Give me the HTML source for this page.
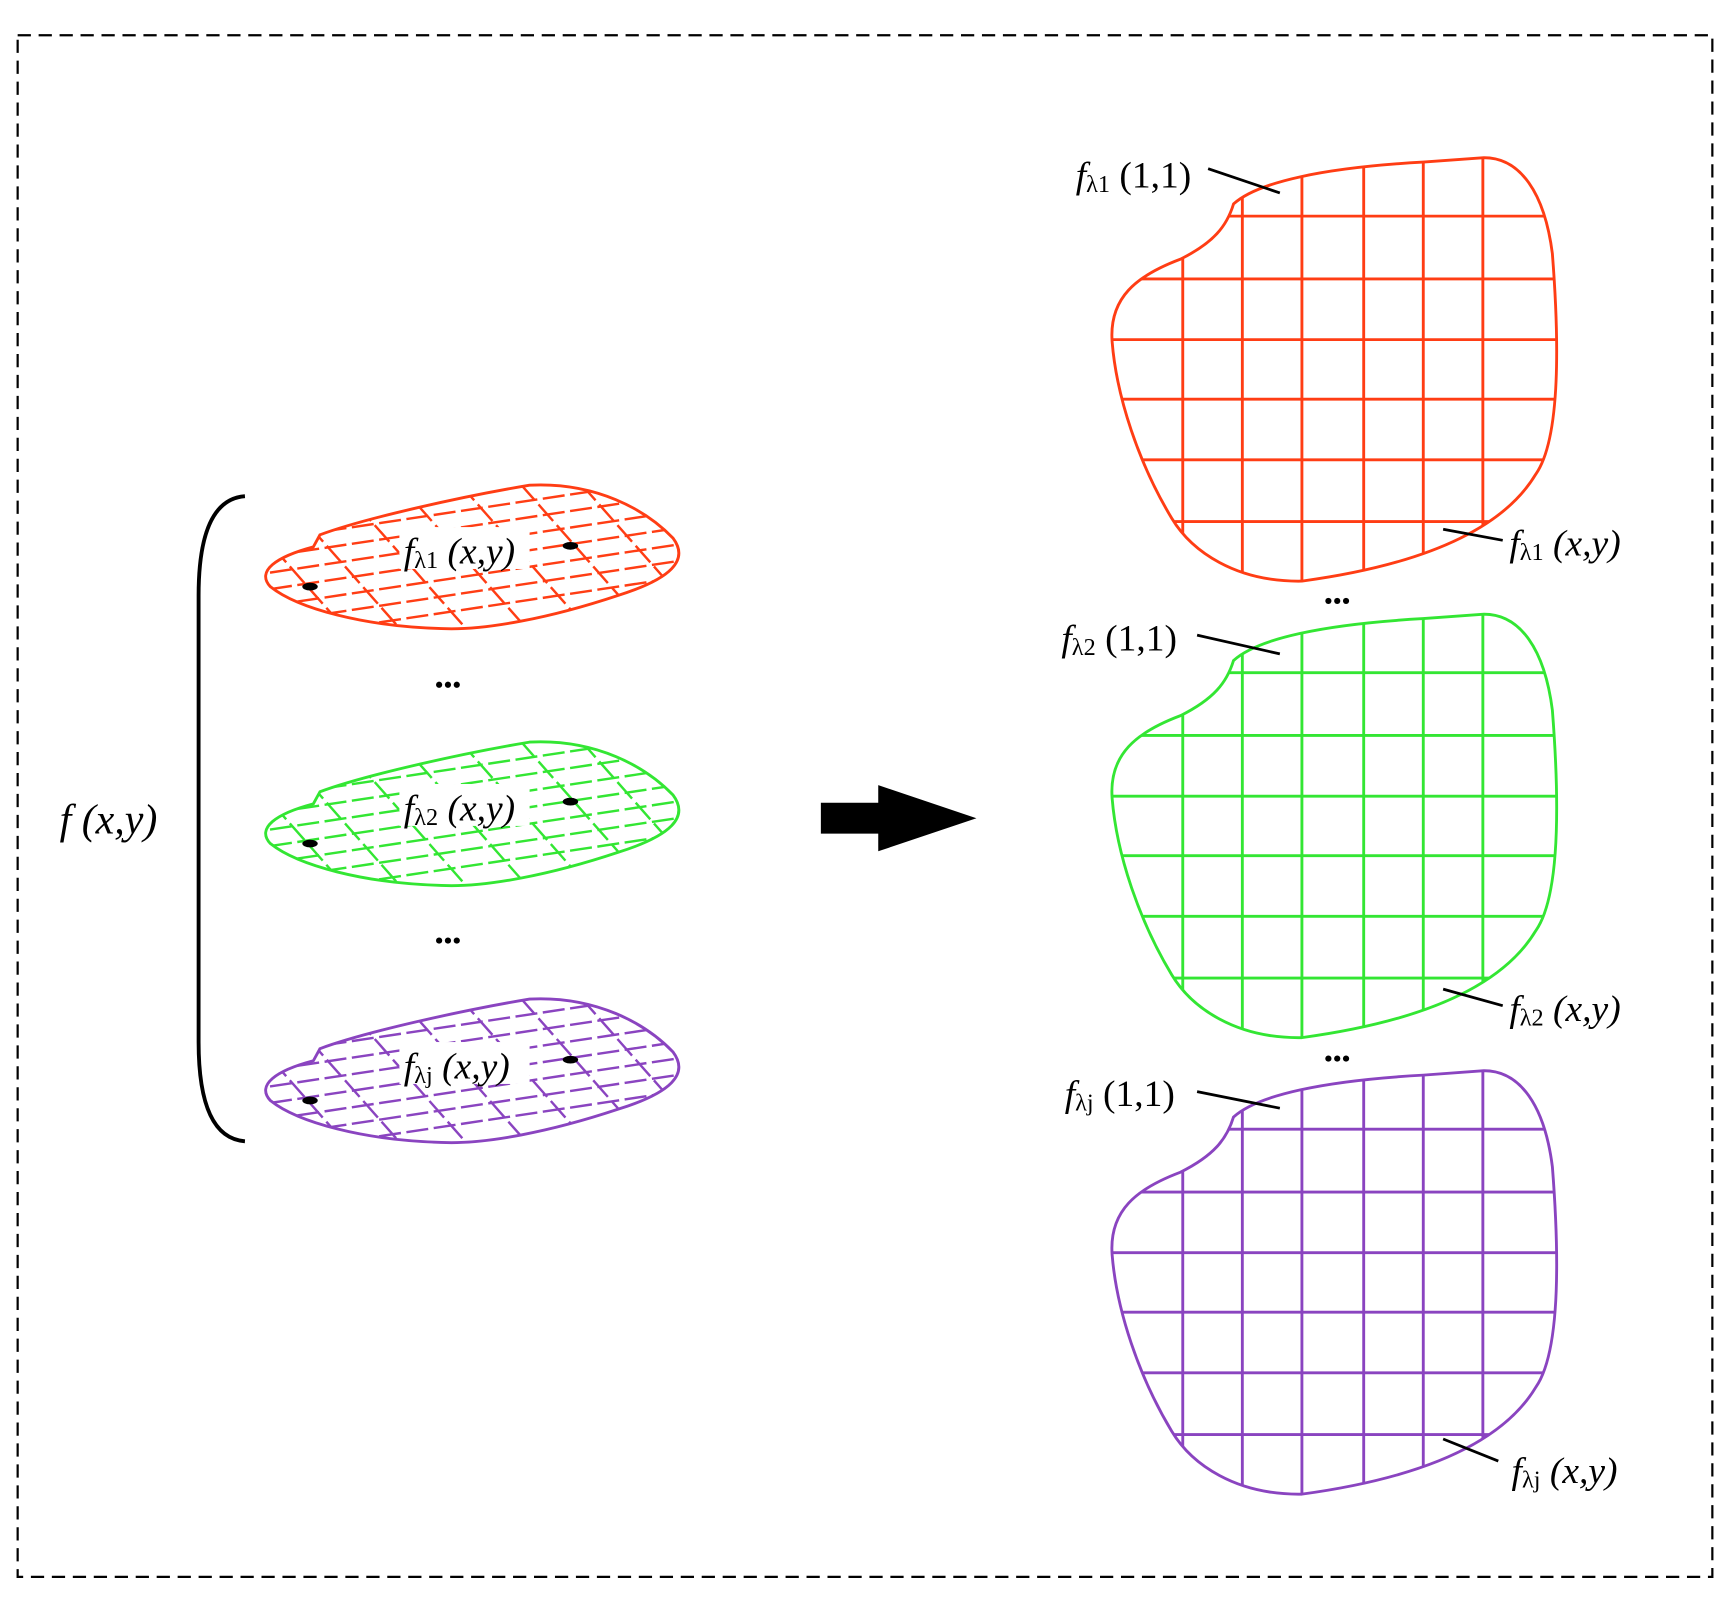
<!DOCTYPE html>
<html><head><meta charset="utf-8"><style>
html,body{margin:0;padding:0;background:#fff;}
svg{display:block;}
text{font-family:"Liberation Serif",serif;fill:#000;}
</style></head><body>
<svg width="1730" height="1600" viewBox="0 0 1568 1451" preserveAspectRatio="none" xmlns="http://www.w3.org/2000/svg">
<defs>
<clipPath id="bigc" clipPathUnits="userSpaceOnUse">
<path d="M1118,185 C1140,165 1200,152 1290,147 L1345,143 C1378,143 1400,175 1407,230 C1414,320 1413,400 1392,430 C1362,480 1290,512 1180,527 C1120,528 1080,500 1062,470 C1032,420 1012,360 1008,310 C1005,270 1030,250 1070,235 C1100,220 1112,205 1118,185 Z"/>
</clipPath>
<clipPath id="flatc" clipPathUnits="userSpaceOnUse">
<path d="M290,485 C330,470 420,450 480,440 C540,437 585,462 610,488 C625,508 608,525 560,540 C500,560 440,572 400,570 C330,568 270,552 245,532 C232,518 250,505 284,496 Z"/>
</clipPath>
<g id="bigGrid" stroke-width="2.6" fill="none">
<path d="M1072,140V540M1126,140V540M1180,140V540M1236,140V540M1290,140V540M1344,140V540"/>
<path d="M1000,196H1420M1000,253H1420M1000,308H1420M1000,362H1420M1000,417H1420M1000,473H1420"/>
</g>
<g id="flatGrid" stroke-width="2.2" fill="none" stroke-dasharray="20 5">
<path d="M220,508L640,445M220,523L640,460M220,538L640,475M220,553L640,490M220,568L640,505M220,583L640,520M220,493L640,430M220,478L640,415"/>
<path d="M230,420L380,590M290,420L440,590M345,420L495,590M400,420L550,590M455,420L605,590M510,420L660,590M565,420L715,590M180,420L330,590"/>
</g>
<path id="bigp" d="M1118,185 C1140,165 1200,152 1290,147 L1345,143 C1378,143 1400,175 1407,230 C1414,320 1413,400 1392,430 C1362,480 1290,512 1180,527 C1120,528 1080,500 1062,470 C1032,420 1012,360 1008,310 C1005,270 1030,250 1070,235 C1100,220 1112,205 1118,185 Z" fill="none" stroke-width="2.6"/>
<path id="flatp" d="M290,485 C330,470 420,450 480,440 C540,437 585,462 610,488 C625,508 608,525 560,540 C500,560 440,572 400,570 C330,568 270,552 245,532 C232,518 250,505 284,496 Z" fill="none" stroke-width="2.6"/>
</defs>

<rect x="16" y="32" width="1536" height="1398" fill="none" stroke="#000" stroke-width="2" stroke-dasharray="12 7"/>

<path d="M222,450 C195,452 180,480 180,540 L180,945 C180,1005 195,1033 222,1035" fill="none" stroke="#000" stroke-width="3.5"/>
<text x="54" y="756" font-size="38" font-style="italic">f (x,y)</text>

<g stroke="#ff3d14">
 <g clip-path="url(#flatc)"><use href="#flatGrid"/></g>
 <use href="#flatp"/>
</g>
<g stroke="#33e633" transform="translate(0,233)">
 <g clip-path="url(#flatc)"><use href="#flatGrid"/></g>
 <use href="#flatp"/>
</g>
<g stroke="#8a44c0" transform="translate(0,466)">
 <g clip-path="url(#flatc)"><use href="#flatGrid"/></g>
 <use href="#flatp"/>
</g>
<g>
<rect x="362" y="478" width="118" height="38" fill="#fff"/>
<text x="366" y="511" font-size="34" font-style="italic">f<tspan font-size="22" font-style="normal" dy="4">λ1</tspan><tspan dy="-4"> (x,y)</tspan></text>
<rect x="362" y="711" width="118" height="38" fill="#fff"/>
<text x="366" y="744" font-size="34" font-style="italic">f<tspan font-size="22" font-style="normal" dy="4">λ2</tspan><tspan dy="-4"> (x,y)</tspan></text>
<rect x="362" y="945" width="118" height="38" fill="#fff"/>
<text x="366" y="978" font-size="34" font-style="italic">f<tspan font-size="22" font-style="normal" dy="4">λj</tspan><tspan dy="-4"> (x,y)</tspan></text>
</g>
<g fill="#000">
<ellipse cx="281" cy="532" rx="7" ry="3.5"/><ellipse cx="517" cy="495" rx="7" ry="3.5"/>
<ellipse cx="281" cy="765" rx="7" ry="3.5"/><ellipse cx="517" cy="727" rx="7" ry="3.5"/>
<ellipse cx="281" cy="998" rx="7" ry="3.5"/><ellipse cx="517" cy="961" rx="7" ry="3.5"/>
<circle cx="398" cy="621" r="2.8"/><circle cx="406" cy="621" r="2.8"/><circle cx="414" cy="621" r="2.8"/>
<circle cx="398" cy="853" r="2.8"/><circle cx="406" cy="853" r="2.8"/><circle cx="414" cy="853" r="2.8"/>
<circle cx="1204" cy="545" r="2.8"/><circle cx="1212" cy="545" r="2.8"/><circle cx="1220" cy="545" r="2.8"/>
<circle cx="1204" cy="960" r="2.8"/><circle cx="1212" cy="960" r="2.8"/><circle cx="1220" cy="960" r="2.8"/>
</g>

<rect x="744" y="728" width="54" height="28" fill="#000"/>
<polygon points="796,712 885,742 796,772" fill="#000"/>

<g stroke="#ff3d14">
 <g clip-path="url(#bigc)"><use href="#bigGrid"/></g>
 <use href="#bigp"/>
</g>
<g stroke="#33e633" transform="translate(0,414)">
 <g clip-path="url(#bigc)"><use href="#bigGrid"/></g>
 <use href="#bigp"/>
</g>
<g stroke="#8a44c0" transform="translate(0,828)">
 <g clip-path="url(#bigc)"><use href="#bigGrid"/></g>
 <use href="#bigp"/>
</g>

<g stroke="#000" stroke-width="2.5">
<line x1="1095" y1="153" x2="1160" y2="175"/>
<line x1="1308" y1="480" x2="1362" y2="490"/>
<line x1="1085" y1="576" x2="1160" y2="593"/>
<line x1="1308" y1="897" x2="1362" y2="912"/>
<line x1="1085" y1="990" x2="1160" y2="1005"/>
<line x1="1308" y1="1305" x2="1358" y2="1325"/>
</g>
<text x="975" y="170" font-size="34" font-style="italic">f<tspan font-size="22" font-style="normal" dy="4">λ1</tspan><tspan dy="-4" font-style="normal"> (1,1)</tspan></text>
<text x="1368" y="504" font-size="34" font-style="italic">f<tspan font-size="22" font-style="normal" dy="4">λ1</tspan><tspan dy="-4"> (x,y)</tspan></text>
<text x="962" y="590" font-size="34" font-style="italic">f<tspan font-size="22" font-style="normal" dy="4">λ2</tspan><tspan dy="-4" font-style="normal"> (1,1)</tspan></text>
<text x="1368" y="926" font-size="34" font-style="italic">f<tspan font-size="22" font-style="normal" dy="4">λ2</tspan><tspan dy="-4"> (x,y)</tspan></text>
<text x="965" y="1003" font-size="34" font-style="italic">f<tspan font-size="22" font-style="normal" dy="4">λj</tspan><tspan dy="-4" font-style="normal"> (1,1)</tspan></text>
<text x="1370" y="1345" font-size="34" font-style="italic">f<tspan font-size="22" font-style="normal" dy="4">λj</tspan><tspan dy="-4"> (x,y)</tspan></text>
</svg>
</body></html>
